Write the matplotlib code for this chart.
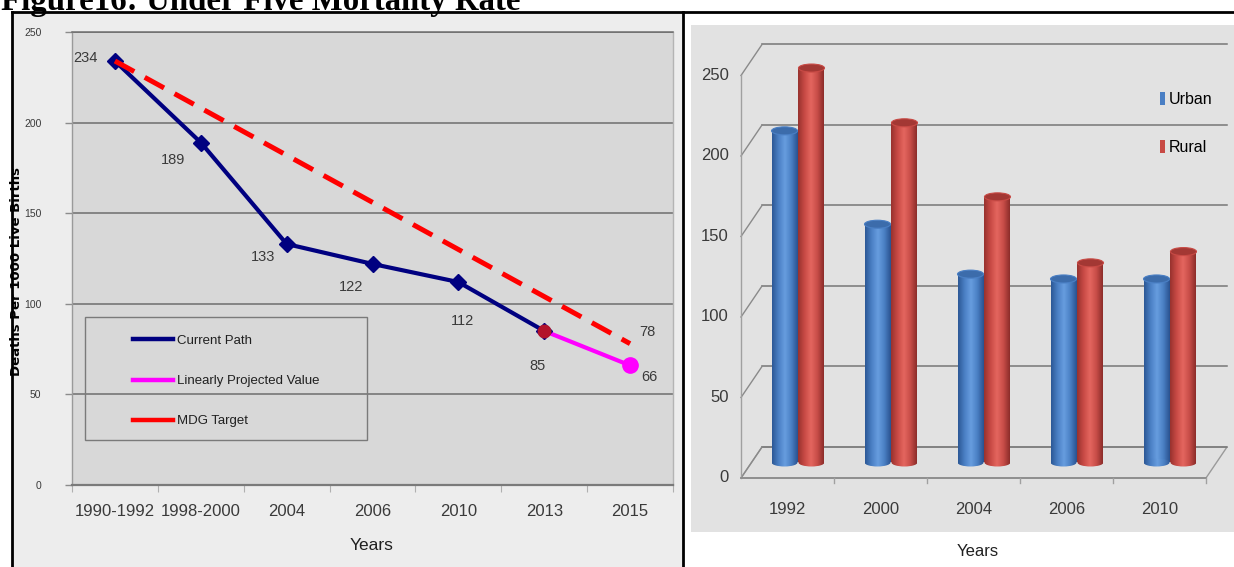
import numpy as np
import matplotlib
matplotlib.use("Agg")
import matplotlib.pyplot as plt
from matplotlib.patches import Rectangle, Ellipse, Polygon
from matplotlib.lines import Line2D
from matplotlib.colors import to_rgb

W, H, DPI = 1234, 567, 100

# ---- Under-five mortality trend (left panel) ----
periods = ["1990-1992", "1998-2000", "2004", "2006", "2010", "2013", "2015"]
current_path = [234, 189, 133, 122, 112, 85]
projected = [85, 66]
mdg_target = [234, 78]
mort_ticks = [0, 50, 100, 150, 200, 250]

# ---- Urban / rural comparison (right panel) ----
survey_years = ["1992", "2000", "2004", "2006", "2010"]
urban = [206, 148, 117, 114, 114]
rural = [245, 211, 165, 124, 131]
bar_ticks = [0, 50, 100, 150, 200, 250]

SANS = ["Liberation Sans", "DejaVu Sans"]
TXT = "#3a3a3a"

fig = plt.figure(figsize=(W / DPI, H / DPI), dpi=DPI)
fig.patch.set_facecolor("white")


def fx(px):
    return px / W


def fy(py):
    return 1 - py / H


def axes_px(x0, y0, x1, y1):
    return fig.add_axes([fx(x0), fy(y1), (x1 - x0) / W, (y1 - y0) / H])


# panel backgrounds (behind the axes)
fig.patches.append(Rectangle((fx(12), 0), (683 - 12) / W, fy(12), transform=fig.transFigure,
                             facecolor="#ededed", edgecolor="none", zorder=-2))
fig.patches.append(Rectangle((fx(691), fy(532)), (1234 - 691) / W, (532 - 25) / H,
                             transform=fig.transFigure, facecolor="#e2e2e2",
                             edgecolor="none", zorder=-2))

# title (partly above the page edge)
fig.text(fx(1), fy(10), "Figure16: Under Five Mortality Rate",
         family=["Liberation Serif", "DejaVu Serif"], fontweight="bold", fontsize=23.7,
         va="baseline", ha="left", color="black")

# ================= left panel =================
ax = axes_px(72, 32, 673, 485)
ax.set_facecolor("#d8d8d8")
x = np.arange(len(periods))
ax.set_xlim(-0.5, len(periods) - 0.5)
ax.set_ylim(0, 250)

ax.set_yticks(mort_ticks)
ax.set_yticklabels([str(t) for t in mort_ticks], family=SANS, fontsize=7.5, color=TXT)
ax.tick_params(axis="y", length=5, width=1, color="#8c8c8c", pad=17)
ax.yaxis.grid(True, color="#6e6e6e", lw=1.1)
ax.set_axisbelow(True)

ax.set_xticks(np.arange(len(periods) + 1) - 0.5)
ax.set_xticklabels([])
ax.set_xticks(x, minor=True)
ax.set_xticklabels(periods, minor=True, family=SANS, fontsize=12, color=TXT)
ax.tick_params(axis="x", which="major", length=5, color="#b0b0b0")
ax.tick_params(axis="x", which="minor", length=0, pad=14)

for side, col, lw in [("left", "#9a9a9a", 1.0), ("bottom", "#7a7a7a", 1.6),
                      ("top", "#6e6e6e", 1.1), ("right", "#b4b4b4", 1.0)]:
    ax.spines[side].set_color(col)
    ax.spines[side].set_linewidth(lw)

ax.plot(x[:len(current_path)], current_path, color="#000080", lw=3,
        marker="D", ms=8.5, zorder=4)
ax.plot(x[len(current_path) - 1:], projected, color="#ff00ff", lw=3, zorder=3)
ax.plot(x[-1], projected[-1], "o", color="#ff00ff", ms=11, zorder=3)
ax.plot(x[len(current_path) - 1], projected[0], "o", color="#b3132b", ms=9, zorder=5)
ax.plot([x[0], x[-1]], mdg_target, color="#ff0000", lw=3.6, dashes=(4.4, 2.4), zorder=5)

# value labels
label_pts = [(x[0], current_path[0], (-29, 3)),
             (x[1], current_path[1], (-28, -17)),
             (x[2], current_path[2], (-24, -13)),
             (x[3], current_path[3], (-21, -23)),
             (x[4], current_path[4], (4, -39)),
             (x[5], current_path[5], (-7, -35)),
             (x[6], mdg_target[1], (17, 12)),
             (x[6], projected[1], (19, -12))]
for xi, val, off in label_pts:
    ax.annotate(str(val), (xi, val), xytext=off, textcoords="offset pixels",
                ha="center", va="center", family=SANS, fontsize=10.5, color=TXT, zorder=6)

# legend box
ax.add_patch(Rectangle(((85 - 72) / 601, (485 - 440) / 453), 282 / 601, 123 / 453,
                       transform=ax.transAxes, facecolor="none", edgecolor="#7a7a7a",
                       lw=1.0, zorder=6))
h_cur = Line2D([], [], color="#000080", lw=3.2)
h_proj = Line2D([], [], color="#ff00ff", lw=3.2)
h_mdg = Line2D([], [], color="#ff0000", lw=3.2)
leg = ax.legend([h_cur, h_proj, h_mdg], ["Current Path", "Linearly Projected Value", "MDG Target"],
                loc="center left", bbox_to_anchor=((133 - 72) / 601, (485 - 381) / 453),
                frameon=False, borderpad=0, borderaxespad=0, handlelength=3.0,
                handletextpad=0.3, labelspacing=2.13,
                prop={"family": SANS, "size": 9.5})
for t in leg.get_texts():
    t.set_color("#202020")
leg.set_zorder(7)

fig.text(fx(17), fy(272), "Deaths Per 1000 Live Births", rotation=90, ha="center", va="center",
         family=["DejaVu Sans"], fontweight="bold", fontsize=9.5, color="black")
fig.text(fx(372), fy(546), "Years", ha="center", va="center", family=SANS,
         fontsize=12.5, color="#202020")

# ================= right panel (pseudo-3D cylinders) =================
X0, Y0, X1, Y1 = 691, 25, 1234, 532
PXC, PXV = 93.0, 1.61          # pixels per category, pixels per unit value
MID0_X, MID0_Y = 800.0, 462.5  # pixel position of the first cluster at mid depth, value 0
axr = axes_px(X0, Y0, X1, Y1)
axr.set_axis_off()
xlim = ((X0 - MID0_X) / PXC, (X1 - MID0_X) / PXC)
ylim = ((MID0_Y - Y1) / PXV, (MID0_Y - Y0) / PXV)

DX = 21 / PXC          # depth offset along x (front -> back)
DY = 31 / PXV          # depth offset along y
hx, hy = DX / 2, DY / 2
FL = (741 - MID0_X) / PXC
n = len(survey_years)
FR = FL + n
BL, BR = FL + DX, FR + DX
GRID = "#767676"

# floor
axr.add_patch(Polygon([(FL, -hy), (FR, -hy), (BR, hy), (BL, hy)], closed=True,
                      facecolor="#e0e0e0", edgecolor="#9a9a9a", lw=1.0, zorder=1))
# back and side wall grid lines
for v in bar_ticks:
    axr.plot([BL, BR], [v + hy, v + hy], color=GRID, lw=1.1, zorder=1)
    axr.plot([FL, BL], [v - hy, v + hy], color="#8a8a8a", lw=1.0, zorder=1)
axr.plot([FL, FL], [-hy, bar_ticks[-1] - hy], color="#a0a0a0", lw=1.0, zorder=1)
axr.plot([FL, FR], [-hy, -hy], color="#8a8a8a", lw=1.2, zorder=1)
for k in range(1, n + 1):
    axr.plot([FL + k, FL + k], [-hy, -hy - 5 / PXV], color="#a0a0a0", lw=1.0, zorder=1)

centers = FL + 0.5 + np.arange(n) + hx
bw = 26 / PXC
bars_u = axr.bar(centers - 0.145, urban, width=bw, bottom=0, facecolor="none",
                 edgecolor="none", zorder=3)
bars_r = axr.bar(centers + 0.145, rural, width=bw, bottom=0, facecolor="none",
                 edgecolor="none", zorder=3)

BLUE_STOPS = ["#2c5896", "#4a7fc4", "#679ddf", "#4a80c4", "#2a5290"]
RED_STOPS = ["#98322e", "#c84a45", "#e4665f", "#c84d48", "#8c2d2a"]


def gradient_image(stops, n=64):
    pos = np.linspace(0, 1, len(stops))
    cols = np.array([to_rgb(c) for c in stops])
    t = np.linspace(0, 1, n)
    img = np.stack([np.interp(t, pos, cols[:, i]) for i in range(3)], axis=-1)
    return img[np.newaxis, :, :]


EH = 8 / PXV  # ellipse height in value units


def draw_cylinder(bar, stops, top_col, z):
    x0, w, h = bar.get_x(), bar.get_width(), bar.get_height()
    xc = x0 + w / 2
    img = gradient_image(stops)
    body = axr.imshow(img, extent=[x0, x0 + w, -EH, h], aspect="auto", zorder=z,
                      interpolation="bilinear")
    body.set_clip_path(bar)
    base = Ellipse((xc, 0), w, EH, facecolor="none", edgecolor="none", zorder=z)
    axr.add_patch(base)
    bimg = axr.imshow(img, extent=[x0, x0 + w, -EH, EH], aspect="auto", zorder=z,
                      interpolation="bilinear")
    bimg.set_clip_path(base)
    axr.add_patch(Ellipse((xc, h), w, EH, facecolor=top_col, edgecolor=stops[1],
                          lw=0.8, zorder=z + 0.1))


for i in range(n):
    draw_cylinder(bars_u[i], BLUE_STOPS, "#3c6cab", 3 + i * 0.5)
    draw_cylinder(bars_r[i], RED_STOPS, "#a33834", 3.2 + i * 0.5)

axr.set_xlim(*xlim)
axr.set_ylim(*ylim)

for v in bar_ticks:
    axr.text((729 - MID0_X) / PXC, v - hy, str(v), ha="right", va="center",
             family=SANS, fontsize=12, color=TXT)
for k, yr in enumerate(survey_years):
    axr.text(FL + 0.5 + k, (MID0_Y - 510) / PXV, yr, ha="center", va="center",
             family=SANS, fontsize=12, color=TXT)

fig.legend([Rectangle((0, 0), 1, 1, facecolor="#4a7fc4"),
            Rectangle((0, 0), 1, 1, facecolor="#c84a45")], ["Urban", "Rural"],
           loc="center left", bbox_to_anchor=(fx(1160), fy(123.5)), frameon=False,
           borderpad=0, borderaxespad=0, handlelength=0.3, handleheight=0.9,
           handletextpad=0.25, labelspacing=2.04, prop={"family": SANS, "size": 11.5})
fig.text(fx(978), fy(551), "Years", ha="center", va="center", family=SANS,
         fontsize=12, color="#202020")

# panel frames
for xs, ys in [([12, 1234], [12, 12]), ([12, 12], [12, 567]), ([683, 683], [12, 567])]:
    fig.add_artist(Line2D([fx(v) for v in xs], [fy(v) for v in ys], transform=fig.transFigure,
                          color="black", lw=2.0, zorder=10))

fig.savefig("out.png", dpi=DPI, facecolor="white")
